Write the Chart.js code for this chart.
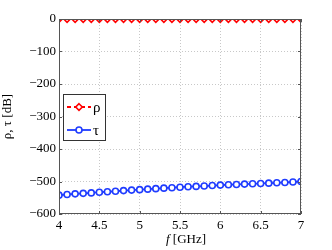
<!DOCTYPE html>
<html>
<head>
<meta charset="utf-8">
<script src="https://cdn.jsdelivr.net/npm/chart.js"></script>
<style>
html, body { margin: 0; padding: 0; background: #fff; }
#wrap { width: 332px; height: 250px; position: relative; }
</style>
</head>
<body>
<div id="wrap"><canvas id="chart"></canvas></div>
<script>
"use strict";

// frequency points (GHz)
const freq = [4.0, 4.1, 4.2, 4.3, 4.4, 4.5, 4.6, 4.7, 4.8, 4.9,
  5.0, 5.1, 5.2, 5.3, 5.4, 5.5, 5.6, 5.7, 5.8, 5.9,
  6.0, 6.1, 6.2, 6.3, 6.4, 6.5, 6.6, 6.7, 6.8, 6.9, 7.0];
// reflection, dB
const rho = [0, 0, 0, 0, 0, 0, 0, 0, 0, 0,
  0, 0, 0, 0, 0, 0, 0, 0, 0, 0,
  0, 0, 0, 0, 0, 0, 0, 0, 0, 0, 0];
// transmission, dB
const tau = [-542, -540, -538, -536.5, -535, -533, -531.5, -530, -528, -526.5,
  -525, -523.5, -522, -520.5, -519, -517.5, -516, -515, -514, -512.5,
  -511, -510, -509, -508, -507, -506, -505, -504, -503, -501.5, -500];
const xTicks = [4, 4.5, 5, 5.5, 6, 6.5, 7];
const yTicks = [0, -100, -200, -300, -400, -500, -600];
const seriesNames = ["ρ", "τ"];

const RED = "#ff0000";
const BLUE = "#1f3cff";
const FONT = "'Liberation Serif', 'DejaVu Serif', serif";

function toPoints(ys) {
  return freq.map((f, i) => ({ x: f, y: ys[i] }));
}

function diamond(ctx, x, y, r) {
  ctx.beginPath();
  ctx.moveTo(x, y - r);
  ctx.lineTo(x + r, y);
  ctx.lineTo(x, y + r);
  ctx.lineTo(x - r, y);
  ctx.closePath();
}

// box, inner ticks, legend and x title in matlab style
const framePlugin = {
  id: "frame",
  afterDraw(chart) {
    const ctx = chart.ctx;
    const a = chart.chartArea;
    const xs = chart.scales.x;
    const ys = chart.scales.y;
    ctx.save();
    ctx.setLineDash([]);
    ctx.strokeStyle = "#555";
    ctx.lineWidth = 1;
    ctx.strokeRect(a.left + 0.5, a.top + 0.5, a.right - a.left - 1, a.bottom - a.top - 1);

    ctx.beginPath();
    yTicks.forEach(v => {
      const py = Math.round(ys.getPixelForValue(v)) + 0.5;
      ctx.moveTo(a.left, py); ctx.lineTo(a.left + 3, py);
      ctx.moveTo(a.right, py); ctx.lineTo(a.right - 3, py);
    });
    xTicks.forEach(v => {
      const px = Math.round(xs.getPixelForValue(v)) + 0.5;
      ctx.moveTo(px, a.bottom); ctx.lineTo(px, a.bottom - 3);
      ctx.moveTo(px, a.top); ctx.lineTo(px, a.top + 3);
    });
    ctx.stroke();

    // legend
    const bx = a.left + 4, by = a.top + 75, bw = 42, bh = 46;
    ctx.fillStyle = "#fff";
    ctx.fillRect(bx, by, bw, bh);
    ctx.strokeStyle = "#333";
    ctx.strokeRect(bx + 0.5, by + 0.5, bw, bh);
    const rows = [
      { name: seriesNames[0], color: RED, dash: [4, 3], y: by + 13 },
      { name: seriesNames[1], color: BLUE, dash: [], y: by + 36 }
    ];
    rows.forEach((r, i) => {
      ctx.strokeStyle = r.color;
      ctx.lineWidth = 1.8;
      ctx.setLineDash(r.dash);
      ctx.beginPath();
      ctx.moveTo(bx + 4, r.y);
      ctx.lineTo(bx + 28, r.y);
      ctx.stroke();
      ctx.setLineDash([]);
      ctx.fillStyle = "#fff";
      ctx.lineWidth = 1.6;
      if (i === 0) {
        diamond(ctx, bx + 16, r.y, 3.3);
      } else {
        ctx.beginPath();
        ctx.arc(bx + 16, r.y, 3, 0, Math.PI * 2);
      }
      ctx.fill();
      ctx.stroke();
      ctx.fillStyle = "#000";
      ctx.font = "15px " + FONT;
      ctx.textBaseline = "middle";
      ctx.textAlign = "left";
      ctx.fillText(r.name, bx + 30, r.y + 1);
    });

    // x title with italic f
    ctx.fillStyle = "#000";
    ctx.textBaseline = "middle";
    ctx.textAlign = "left";
    ctx.font = "italic 13px " + FONT;
    const fW = ctx.measureText("f").width;
    ctx.font = "13px " + FONT;
    const restW = ctx.measureText(" [GHz]").width;
    const cx = (a.left + a.right) / 2 + 6;
    let tx = cx - (fW + restW) / 2;
    ctx.font = "italic 13px " + FONT;
    ctx.fillText("f", tx, 240);
    ctx.font = "13px " + FONT;
    ctx.fillText(" [GHz]", tx + fW, 240);
    ctx.restore();
  }
};

new Chart(document.getElementById("chart"), {
  type: "scatter",
  data: {
    datasets: [
      {
        label: seriesNames[0],
        data: toPoints(rho),
        showLine: true,
        borderColor: RED,
        borderWidth: 1.6,
        borderDash: [4, 3],
        pointStyle: "rectRot",
        pointRadius: 3.3,
        pointBorderWidth: 1.6,
        pointBackgroundColor: "#fff",
        pointBorderColor: RED
      },
      {
        label: seriesNames[1],
        data: toPoints(tau),
        showLine: true,
        borderColor: BLUE,
        borderWidth: 1.8,
        pointStyle: "circle",
        pointRadius: 3,
        pointBorderWidth: 1.6,
        pointBackgroundColor: "#fff",
        pointBorderColor: BLUE
      }
    ]
  },
  options: {
    responsive: true,
    maintainAspectRatio: false,
    animation: false,
    layout: { padding: { top: 19, right: 31, left: 0, bottom: 0 } },
    plugins: {
      legend: { display: false },
      tooltip: { enabled: false }
    },
    scales: {
      x: {
        type: "linear",
        min: 4,
        max: 7,
        afterBuildTicks(scale) { scale.ticks = xTicks.map(v => ({ value: v })); },
        afterFit(scale) { scale.height = 36; },
        ticks: {
          color: "#000",
          padding: 4,
          font: { family: FONT, size: 13 },
          callback: v => String(v)
        },
        grid: {
          color: "#c8c8c8",
          borderDash: [1, 2],
          drawTicks: false,
          lineWidth: 1
        },
        border: { display: false, dash: [1, 2] }
      },
      y: {
        min: -600,
        max: 0,
        afterBuildTicks(scale) { scale.ticks = yTicks.map(v => ({ value: v })); },
        afterFit(scale) { scale.width = 59; },
        ticks: {
          color: "#000",
          padding: 3,
          font: { family: FONT, size: 13 },
          callback: v => (v < 0 ? "\u2212" + Math.abs(v) : String(v))
        },
        grid: {
          color: "#c8c8c8",
          drawTicks: false,
          lineWidth: 1
        },
        border: { display: false, dash: [1, 2] },
        title: {
          display: true,
          text: "ρ, τ [dB]",
          color: "#000",
          padding: 0,
          font: { family: FONT, size: 13 }
        }
      }
    }
  },
  plugins: [framePlugin]
});
</script>
</body>
</html>
